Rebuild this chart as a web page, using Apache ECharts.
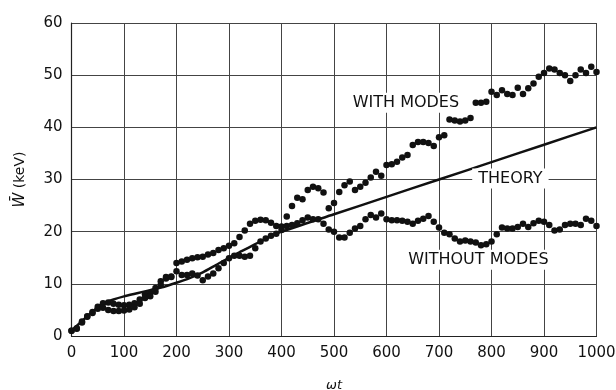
<!DOCTYPE html>
<html>
<head>
<meta charset="utf-8">
<script src="https://cdn.jsdelivr.net/npm/echarts@6/dist/echarts.min.js"></script>
<style>
html,body{margin:0;padding:0;background:#fff;}
#c{width:616px;height:390px;}
</style>
</head>
<body>
<div id="c"></div>
<script>
// omega*t , W (keV)
const withModes = [
[0,1.0],[10,1.5],[20,2.6],[30,3.7],[40,4.6],[50,5.6],[60,6.3],[70,6.4],[80,6.2],[90,6.0],
[100,5.9],[110,6.0],[120,6.3],[130,7.0],[140,8.0],[150,8.3],[160,9.2],[170,10.5],[180,11.3],[190,11.4],
[200,14.0],[210,14.3],[220,14.6],[230,14.9],[240,15.1],[250,15.2],[260,15.6],[270,15.9],[280,16.5],[290,16.8],
[300,17.3],[310,17.8],[320,19.0],[330,20.2],[340,21.5],[350,22.1],[360,22.3],[370,22.2],[380,21.7],[390,21.1],
[400,21.0],[410,22.9],[420,24.9],[430,26.5],[440,26.2],[450,28.0],[460,28.6],[470,28.3],[480,27.5],[490,24.5],
[500,25.5],[510,27.6],[520,28.9],[530,29.6],[540,28.0],[550,28.6],[560,29.4],[570,30.4],[580,31.5],[590,30.7],
[600,32.8],[610,32.9],[620,33.4],[630,34.2],[640,34.7],[650,36.6],[660,37.2],[670,37.2],[680,37.0],[690,36.4],
[700,38.1],[710,38.5],[720,41.5],[730,41.3],[740,41.1],[750,41.3],[760,41.8],[770,44.7],[780,44.7],[790,44.9],
[800,46.8],[810,46.2],[820,47.1],[830,46.4],[840,46.2],[850,47.6],[860,46.4],[870,47.5],[880,48.4],[890,49.7],
[900,50.4],[910,51.3],[920,51.1],[930,50.4],[940,50.0],[950,48.9],[960,50.0],[970,51.1],[980,50.4],[990,51.6],
[1000,50.6]
];
const withoutModes = [
[0,1.0],[10,1.4],[20,2.8],[30,3.8],[40,4.4],[50,5.2],[60,5.4],[70,5.0],[80,4.8],[90,4.8],
[100,4.9],[110,5.1],[120,5.5],[130,6.2],[140,7.3],[150,7.6],[160,8.5],[170,9.8],[180,11.0],[190,11.3],
[200,12.4],[210,11.7],[220,11.7],[230,12.0],[240,11.6],[250,10.7],[260,11.4],[270,12.0],[280,13.0],[290,14.0],
[300,14.9],[310,15.4],[320,15.4],[330,15.2],[340,15.4],[350,16.8],[360,18.1],[370,18.7],[380,19.2],[390,19.6],
[400,20.3],[410,21.1],[420,21.3],[430,21.6],[440,22.2],[450,22.7],[460,22.4],[470,22.4],[480,21.5],[490,20.4],
[500,20.0],[510,18.9],[520,18.9],[530,19.8],[540,20.6],[550,21.1],[560,22.4],[570,23.2],[580,22.7],[590,23.5],
[600,22.4],[610,22.2],[620,22.2],[630,22.1],[640,21.9],[650,21.5],[660,22.1],[670,22.5],[680,23.0],[690,21.9],
[700,20.8],[710,19.8],[720,19.5],[730,18.7],[740,18.1],[750,18.3],[760,18.1],[770,17.9],[780,17.4],[790,17.6],
[800,18.1],[810,19.5],[820,20.8],[830,20.6],[840,20.6],[850,20.9],[860,21.5],[870,20.9],[880,21.6],[890,22.1],
[900,21.9],[910,21.3],[920,20.2],[930,20.4],[940,21.3],[950,21.5],[960,21.5],[970,21.3],[980,22.5],[990,22.1],
[1000,21.1]
];
const theory = [
[0,1.0],[15,2.4],[30,3.8],[45,5.1],[60,6.2],[80,7.0],[100,7.6],[125,8.2],[150,8.8],[175,9.4],[200,10.2],
[225,11.1],[250,12.2],[275,13.6],[300,15.0],[325,16.3],[350,17.6],[375,18.9],[400,20.0],
[500,23.33],[600,26.67],[700,30.0],[800,33.33],[900,36.67],[1000,40.0]
];
const annotations = [
{name:'WITH MODES', value:[637,44.7]},
{name:'THEORY', value:[836,30.2]},
{name:'WITHOUT MODES', value:[775,14.6]}
];
const xTicks = {min:0, max:1000, interval:100};
const yTicks = {min:0, max:60, interval:10};

const FONT = 'DejaVu Sans';
const chart = echarts.init(document.getElementById('c'), null, {renderer:'canvas'});
chart.setOption({
  backgroundColor:'#fff',
  animation:false,
  grid:{left:71.5, right:19.5, top:23, bottom:54, containLabel:false, outerBoundsMode:'none'},
  xAxis:{
    type:'value', min:xTicks.min, max:xTicks.max, interval:xTicks.interval,
    name:'ωt', nameLocation:'middle', nameGap:43,
    nameTextStyle:{fontFamily:FONT, fontSize:13, fontStyle:'italic', color:'#111'},
    axisLine:{show:true, lineStyle:{color:'#222', width:1.2}},
    axisTick:{show:false},
    axisLabel:{fontFamily:FONT, fontSize:15, color:'#111', margin:10, formatter:(v)=>String(v)},
    splitLine:{show:true, lineStyle:{color:'#444', width:1}}
  },
  yAxis:{
    type:'value', min:yTicks.min, max:yTicks.max, interval:yTicks.interval,
    name:'{w|W\u0304} (keV)', nameLocation:'middle', nameGap:44, nameRotate:90,
    nameTextStyle:{fontFamily:FONT, fontSize:14, color:'#111',
      rich:{w:{fontFamily:FONT, fontSize:15, fontStyle:'italic', color:'#111'}}},
    axisLine:{show:true, lineStyle:{color:'#222', width:1.2}},
    axisTick:{show:false},
    axisLabel:{fontFamily:FONT, fontSize:15, color:'#111', margin:9, formatter:(v)=>String(v)},
    splitLine:{show:true, lineStyle:{color:'#444', width:1}}
  },
  series:[
    {type:'line', data:theory, smooth:0.2, symbol:'none', z:3,
     lineStyle:{color:'#111', width:2.5}},
    {type:'scatter', data:withModes, symbol:'circle', symbolSize:6.5, z:4,
     itemStyle:{color:'#111', opacity:1}},
    {type:'scatter', data:withoutModes, symbol:'circle', symbolSize:6.5, z:4,
     itemStyle:{color:'#111', opacity:1}},
    {type:'scatter', data:annotations, symbolSize:0, z:5, silent:true,
     itemStyle:{opacity:1},
     label:{show:true, position:'inside', formatter:'{b}', fontFamily:FONT, fontSize:16,
       color:'#111', opacity:1, backgroundColor:'#fff', padding:[2,6]}}
  ]
});
</script>
</body>
</html>
